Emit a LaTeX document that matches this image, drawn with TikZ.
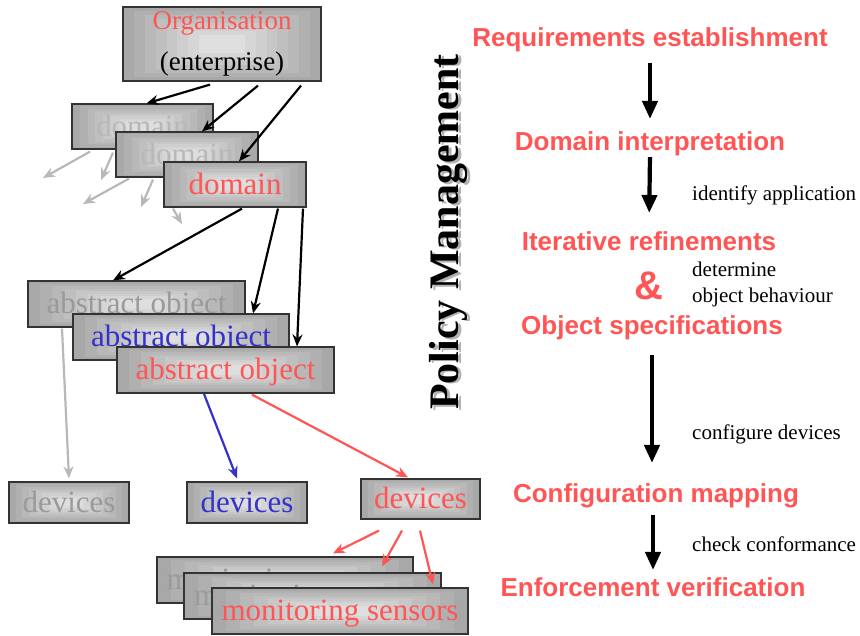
\documentclass[tikz,border=0pt]{standalone}
\usepackage{fontspec}
\setmainfont{Liberation Serif}
\newfontfamily\stepfont{Liberation Sans}
\usetikzlibrary{calc,arrows.meta}
\definecolor{polRed}{HTML}{FF5555}
\definecolor{polBlue}{HTML}{3333CC}
\definecolor{polGrey}{HTML}{9A9A9A}
\definecolor{polFaint}{HTML}{B8B8B8}

\begin{document}
\begin{tikzpicture}[x=1pt,y=-1pt,
    tilefill/.style={draw=black!80, line width=1.2pt, inner sep=0pt,
      path picture={
        \foreach \k in {0,...,7}{
          \pgfmathsetmacro\tint{34-3*\k}
          \fill[black!\tint]
            ($(path picture bounding box.south west)!\k*0.055!(path picture bounding box.north east)$)
            rectangle
            ($(path picture bounding box.north east)!\k*0.055!(path picture bounding box.south west)$);
        }}},
    tile/.style={tilefill, font=\fontsize{31}{36}\selectfont,
      text height=21pt, text depth=2pt},
    wire/.style={-{Stealth[length=12pt,width=10pt]}, line width=2.2pt},
    flowarrow/.style={-{Triangle[length=18pt,width=15pt]}, line width=4.2pt},
    stagetext/.style={font=\stepfont\bfseries\fontsize{26}{30}\selectfont,
      text=polRed, anchor=base, inner sep=0pt},
    note/.style={font=\fontsize{21}{26}\selectfont, anchor=base west, inner sep=0pt}]
  \useasboundingbox (0,0) rectangle (860,635);

  % organisation and its domains
  \node[tilefill, minimum width=198pt, minimum height=74pt, align=center,
        font=\fontsize{27}{41}\selectfont] (org) at (222,44)
        {\textcolor{polRed}{Organisation}\\(enterprise)};
  \node[tile, minimum width=141pt, minimum height=45pt, text=polFaint] (dom1) at (142.5,126.5) {domain};
  \node[tile, minimum width=142pt, minimum height=45pt, text=polFaint] (dom2) at (187,154.5) {domain};
  \node[tile, minimum width=142pt, minimum height=45pt, text=polRed] (dom3) at (235,184.5) {domain};

  \draw[wire] ([xshift=-12pt,yshift=-3pt]org.south) -- ([xshift=4pt]dom1.north);
  \draw[wire] ([xshift=36pt,yshift=-4pt]org.south) -- ([xshift=15pt]dom2.north);
  \draw[wire] ([xshift=79pt,yshift=-4pt]org.south) -- ([xshift=4pt]dom3.north);

  % faded branches of the other domains
  \coordinate (s1) at (43,178);
  \coordinate (s2) at (101,180);
  \coordinate (s3) at (83,204);
  \coordinate (s4) at (141,207);
  \coordinate (s5) at (182,224);
  \draw[wire, polFaint] ([xshift=-52.5pt,yshift=-2pt]dom1.south) -- (s1);
  \draw[wire, polFaint] ([xshift=-29.5pt,yshift=-3pt]dom1.south) -- (s2);
  \draw[wire, polFaint] ([xshift=-58pt,yshift=-1pt]dom2.south) -- (s3);
  \draw[wire, polFaint] ([xshift=-34pt,yshift=-2pt]dom2.south) -- (s4);
  \draw[wire, polFaint] ([xshift=-62pt,yshift=-1pt]dom3.south) -- (s5);

  % devices
  \node[tile, minimum width=120pt, minimum height=41pt, text=polGrey] (dev1) at (69,502.5) {devices};
  \node[tile, minimum width=120pt, minimum height=41pt, text=polBlue] (dev2) at (247,502.5) {devices};
  \node[tile, minimum width=119pt, minimum height=40pt, text=polRed] (dev3) at (420.5,499) {devices};

  % abstract objects
  \node[tile, minimum width=217pt, minimum height=46pt, text=polGrey] (ao1) at (136.5,304) {abstract object};
  \node[tile, minimum width=216pt, minimum height=46pt, text=polBlue] (ao2) at (181,337) {abstract object};
  \draw[wire, polBlue] ([xshift=10pt]ao2.south) -- ([xshift=-10pt,yshift=3pt]dev2.north);
  \node[tile, minimum width=217pt, minimum height=46pt, text=polRed] (ao3) at (225.5,370) {abstract object};

  \draw[wire] ([xshift=7pt,yshift=-1pt]dom3.south) -- ([xshift=-23.5pt]ao1.north);
  \draw[wire] ([xshift=43pt,yshift=-1pt]dom3.south) -- ([xshift=72pt]ao2.north);
  \draw[wire] ([xshift=68pt,yshift=-1pt]dom3.south) -- ([xshift=71.5pt]ao3.north);

  \draw[wire, polFaint] ([xshift=-74.5pt,yshift=-1pt]ao1.south) -- ([yshift=3pt]dev1.north);
  \draw[wire, polRed] ([xshift=26.5pt,yshift=-1pt]ao3.south) -- ([xshift=-12.5pt,yshift=1pt]dev3.north);

  % monitoring sensors
  \node[tile, minimum width=256pt, minimum height=46pt, text=polGrey] (ms1) at (285,580) {monitoring sensors};
  \node[tile, minimum width=257pt, minimum height=46pt, text=polGrey] (ms2) at (312.5,596) {monitoring sensors};
  \node[tile, minimum width=256pt, minimum height=46pt, text=polRed] (ms3) at (340,611) {monitoring sensors};

  \draw[wire, polRed] ([xshift=-41.5pt,yshift=-11pt]dev3.south) -- ([xshift=48pt,yshift=3pt]ms1.north);
  \draw[wire, polRed] ([xshift=-18.5pt,yshift=-11pt]dev3.south) -- ([xshift=69.5pt,yshift=6pt]ms2.north);
  \draw[wire, polRed] ([xshift=-0.5pt,yshift=-11pt]dev3.south) -- ([xshift=93pt,yshift=3pt]ms3.north);

  % vertical title with its shadow
  \node[rotate=90, inner sep=0pt, text=black!30,
        font=\bfseries\fontsize{42}{48}\selectfont] (pmshadow) at (451.5,233.5) {Policy Management};
  \node[rotate=90, inner sep=0pt,
        font=\bfseries\fontsize{42}{48}\selectfont] (pm) at (449,232) {Policy Management};

  % policy stages
  \node[stagetext] (req)  at (650,46)  {Requirements establishment};
  \node[stagetext] (dint) at (650,150) {Domain interpretation};
  \node[stagetext] (iter) at (649,250) {Iterative refinements};
  \node[stagetext, font=\stepfont\bfseries\fontsize{40}{44}\selectfont] (amp) at (649,299) {\&};
  \node[stagetext] (spec) at (652,334) {Object specifications};
  \node[stagetext] (cfg)  at (656,502) {Configuration mapping};
  \node[stagetext] (enf)  at (653,596) {Enforcement verification};

  \draw[flowarrow, shorten <=11.5pt, shorten >=12pt] (req.south) -- (dint.north);
  \draw[flowarrow, shorten <=1.5pt, shorten >=18pt] (dint.south) -- (iter.north);
  \draw[flowarrow, shorten <=15.5pt, shorten >=20pt] (spec.south) -- (spec.south |- cfg.north);
  \draw[flowarrow, shorten <=7.5pt, shorten >=7pt] (enf.north |- cfg.south) -- (enf.north);

  \node[note] (nid)  at (692,200) {identify application};
  \node[note] (ndet) at (692,276) {determine};
  \node[note] (nobj) at (692,302) {object behaviour};
  \node[note] (ncfg) at (692,439) {configure devices};
  \node[note] (nchk) at (692,551) {check conformance};
\end{tikzpicture}
\end{document}
